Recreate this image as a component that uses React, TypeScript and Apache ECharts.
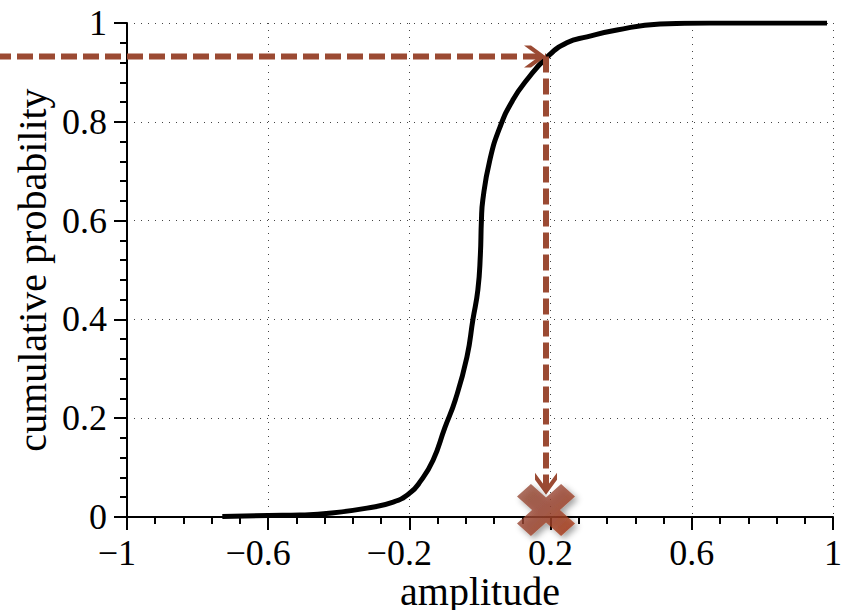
import React, { useEffect, useRef } from 'react';
import * as echarts from 'echarts';

// CDF curve
const amplitude = [-0.73, -0.6, -0.51, -0.42, -0.32, -0.246, -0.198, -0.17, -0.133, -0.1, -0.07, -0.037, -0.02, -0.006, 0.001, 0.004, 0.008, 0.028, 0.057, 0.093, 0.133, 0.19, 0.246, 0.303, 0.388, 0.51, 0.65, 0.983];
const cumulativeProbability = [0.001, 0.003, 0.004, 0.008, 0.018, 0.03, 0.049, 0.071, 0.115, 0.18, 0.237, 0.324, 0.4, 0.46, 0.53, 0.6, 0.642, 0.723, 0.79, 0.844, 0.885, 0.931, 0.96, 0.972, 0.986, 0.998, 1.0, 1.0];

// axis ticks
const xTickValues = [-1, -0.6, -0.2, 0.2, 0.6, 1];
const yTickValues = [0, 0.2, 0.4, 0.6, 0.8, 1];

// guide (read-off) lines and marker
const guideX = [0.187];
const guideY = [0.932];
const guideEndY = [0.045];
const markerPoint = [0.187, 0.014];

const FONT = '"Liberation Serif", "Times New Roman", serif';
const GUIDE = '#9b4a33';
const GUIDE_DASH = [16, 6];

const chevronRight = 'path://M0,0 L7,0 L22,11 L7,22 L0,22 L15,11 Z';
const chevronDown = 'path://M0,0 L0,7 L11,22 L22,7 L22,0 L11,15 Z';
const crossPath = 'path://M24,0 L50,26 L76,0 L100,24 L74,50 L100,76 L76,100 L50,74 L24,100 L0,76 L26,50 L0,24 Z';

function fmtNum(v: number): string {
  const r = Math.round(v * 10) / 10;
  return String(Math.abs(r));
}

export default function App() {
  const ref = useRef<HTMLDivElement>(null);
  useEffect(() => {
    if (!ref.current) return;
    const chart = echarts.init(ref.current, undefined, { renderer: 'svg' });
    const xInterval = Math.round((xTickValues[1] - xTickValues[0]) * 10) / 10;
    const yInterval = Math.round((yTickValues[1] - yTickValues[0]) * 10) / 10;
    const curve = amplitude.map((x, i) => [x, cumulativeProbability[i]]);
    const splitLine = { show: true, lineStyle: { color: '#444', width: 1, type: [1, 6] as any } };
    const option: any = {
      animation: false,
      backgroundColor: '#fff',
      grid: { left: 127, right: 12, top: 23, bottom: 93, containLabel: false, outerBoundsMode: 'none' },
      xAxis: {
        type: 'value',
        min: xTickValues[0],
        max: xTickValues[xTickValues.length - 1],
        interval: xInterval,
        name: 'amplitude',
        nameLocation: 'middle',
        nameGap: 54,
        nameMoveOverlap: false,
        nameTextStyle: { fontSize: 40, fontFamily: FONT, color: '#000' },
        axisLine: { show: true, onZero: false, lineStyle: { color: '#000', width: 2 } },
        axisTick: { show: true, inside: false, length: 13, lineStyle: { color: '#000', width: 2 } },
        minorTick: { show: true, splitNumber: 5, length: 7, lineStyle: { color: '#000', width: 2 } },
        splitLine,
        axisLabel: {
          show: true,
          margin: 18,
          fontSize: 36,
          fontFamily: FONT,
          color: '#000',
          showMinLabel: true,
          showMaxLabel: true,
          hideOverlap: false,
          formatter: (v: number) => (Math.round(v * 10) < 0 ? `{m|\u2212}${fmtNum(v)}{h|\u2212}` : fmtNum(v)),
          rich: {
            m: { fontSize: 36, fontFamily: FONT, color: '#000' },
            h: { fontSize: 36, fontFamily: FONT, color: 'rgba(0,0,0,0)' },
          },
        },
      },
      yAxis: {
        type: 'value',
        min: yTickValues[0],
        max: yTickValues[yTickValues.length - 1],
        interval: yInterval,
        name: 'cumulative probability',
        nameLocation: 'middle',
        nameGap: 75,
        nameMoveOverlap: false,
        nameTextStyle: { fontSize: 40, fontFamily: FONT, color: '#000' },
        axisLine: { show: true, onZero: false, lineStyle: { color: '#000', width: 2 } },
        axisTick: { show: true, inside: false, length: 13, lineStyle: { color: '#000', width: 2 } },
        minorTick: { show: true, splitNumber: 5, length: 7, lineStyle: { color: '#000', width: 2 } },
        splitLine,
        axisLabel: {
          show: true,
          margin: 20,
          fontSize: 36,
          fontFamily: FONT,
          color: '#000',
          showMinLabel: true,
          showMaxLabel: true,
          formatter: (v: number) => fmtNum(v),
        },
      },
      series: [
        {
          type: 'line',
          data: curve,
          showSymbol: false,
          smooth: 0.5,
          lineStyle: { color: '#000', width: 5 },
          z: 3,
        },
        {
          type: 'line',
          clip: false,
          data: [
            { value: [xTickValues[0], guideY[0]], symbol: 'none' },
            { value: [guideX[0], guideY[0]], symbol: chevronRight, symbolSize: [22, 22], symbolOffset: [-11, 0] },
          ],
          symbol: 'none',
          showSymbol: true,
          lineStyle: { color: GUIDE, width: 6, type: GUIDE_DASH },
          itemStyle: { color: GUIDE },
          z: 4,
        },
        {
          type: 'line',
          clip: false,
          data: [
            { value: [guideX[0], guideY[0]], symbol: 'none' },
            { value: [guideX[0], guideEndY[0]], symbol: chevronDown, symbolSize: [22, 22], symbolOffset: [0, -11] },
          ],
          symbol: 'none',
          showSymbol: true,
          lineStyle: { color: GUIDE, width: 6, type: GUIDE_DASH },
          itemStyle: { color: GUIDE },
          z: 4,
        },
        {
          type: 'scatter',
          clip: false,
          data: [markerPoint],
          symbol: crossPath,
          symbolSize: [58, 52],
          itemStyle: {
            color: new echarts.graphic.LinearGradient(0, 0, 1, 1, [
              { offset: 0, color: '#964e3a' },
              { offset: 0.5, color: '#9a4530' },
              { offset: 1, color: '#a8350e' },
            ]),
            shadowBlur: 6,
            shadowOffsetX: 3,
            shadowOffsetY: 3,
            shadowColor: 'rgba(0,0,0,0.45)',
          },
          z: 5,
        },
      ],
    };
    chart.setOption(option);
    // the read-off line continues left of the y axis to the chart's edge
    const p = chart.convertToPixel({ gridIndex: 0 }, [xTickValues[0], guideY[0]]) as number[];
    if (p && isFinite(p[0]) && isFinite(p[1])) {
      chart.setOption({
        graphic: [
          {
            type: 'line',
            z: 4,
            shape: { x1: 0, y1: p[1], x2: p[0], y2: p[1] },
            style: { stroke: GUIDE, lineWidth: 6, lineDash: GUIDE_DASH, lineDashOffset: 5 },
          },
        ],
      });
    }
    return () => chart.dispose();
  }, []);
  return <div ref={ref} style={{ position: 'absolute', left: 0, top: 0, width: 845, height: 610 }} />;
}
